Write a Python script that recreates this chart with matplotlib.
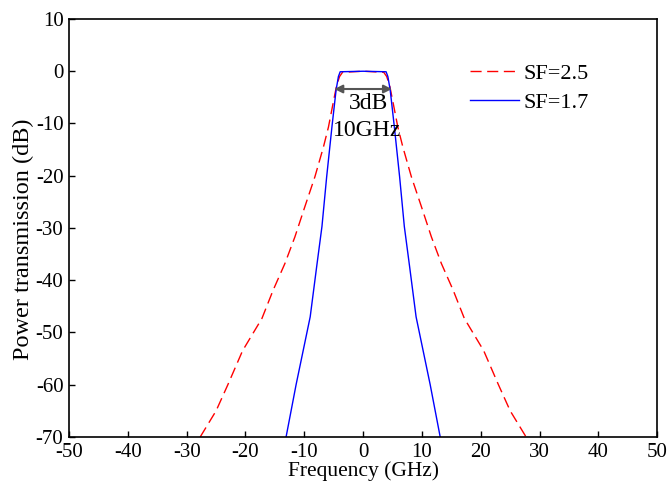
import matplotlib.pyplot as plt

plt.rcParams['font.family'] = ['Liberation Serif', 'DejaVu Serif']
plt.rcParams['axes.unicode_minus'] = False

# SF=2.5 (red dashed)
f_25 = [-27.7, -25.0, -23.0, -20.5, -17.2, -15.3, -13.3, -11.6, -9.9, -8.2,
        -6.75, -5.9, -5.0, -4.5, -4.0, -3.5, 0.0,
        3.5, 4.0, 4.5, 5.0, 5.9, 6.75, 8.2, 9.9, 11.6, 13.3, 15.3, 17.2,
        20.5, 23.0, 25.0, 27.7]
p_25 = [-70.0, -65.0, -60.0, -53.5, -47.3, -41.9, -36.8, -31.7, -25.9, -20.2,
        -14.5, -10.7, -5.5, -2.7, -1.0, -0.2, 0.0,
        -0.2, -1.0, -2.7, -5.5, -10.7, -14.5, -20.2, -25.9, -31.7, -36.8, -41.9, -47.3,
        -53.5, -60.0, -65.0, -70.0]

# SF=1.7 (blue solid)
f_17 = [-13.1, -11.4, -9.0, -7.9, -7.0, -6.2, -5.3, -4.6, -4.2, -3.9, 0.0,
        3.9, 4.2, 4.6, 5.3, 6.2, 7.0, 7.9, 9.0, 11.4, 13.1]
p_17 = [-70.0, -60.0, -47.0, -37.4, -29.7, -20.2, -10.6, -3.6, -1.0, -0.1, 0.0,
        -0.1, -1.0, -3.6, -10.6, -20.2, -29.7, -37.4, -47.0, -60.0, -70.0]

fig = plt.figure(figsize=(6.7, 4.82), dpi=100)
ax = fig.add_axes([0.103, 0.0934, 0.878, 0.8672])

ax.plot(f_25, p_25, color='#ff0000', linestyle=(0, (8, 4)), linewidth=1.0, label='SF=2.5')
ax.plot(f_17, p_17, color='#0000ff', linewidth=1.0, label='SF=1.7')

ax.annotate('', xy=(-4.9, -3.4), xytext=(4.9, -3.4),
            arrowprops=dict(arrowstyle='<|-|>', color='#555555', lw=1.5,
                            mutation_scale=12, shrinkA=0, shrinkB=0))
ax.text(0.9, -6.2, '3dB', ha='center', va='center', fontsize=17)
ax.text(0.6, -11.4, '10GHz', ha='center', va='center', fontsize=17)

ax.set_xlim(-50, 50)
ax.set_ylim(-70, 10)
ax.set_xticks(range(-50, 51, 10))
ax.set_yticks(range(-70, 11, 10))
ax.tick_params(direction='in', labelsize=15, length=4, width=1)
ax.tick_params(axis='x', pad=4)
ax.tick_params(axis='y', pad=4)
for s in ax.spines.values():
    s.set_linewidth(1.2)
ax.set_xlabel('Frequency (GHz)', fontsize=15.5)
ax.xaxis.set_label_coords(0.5, -0.057)
ax.set_ylabel('Power transmission (dB)', fontsize=17.5)
ax.yaxis.set_label_coords(-0.06, 0.474)
ax.legend(loc='upper right', frameon=False, fontsize=16, handlelength=2.2,
          handletextpad=0.2, bbox_to_anchor=(0.917, 0.941), labelspacing=0.35)

plt.savefig('out.png')
